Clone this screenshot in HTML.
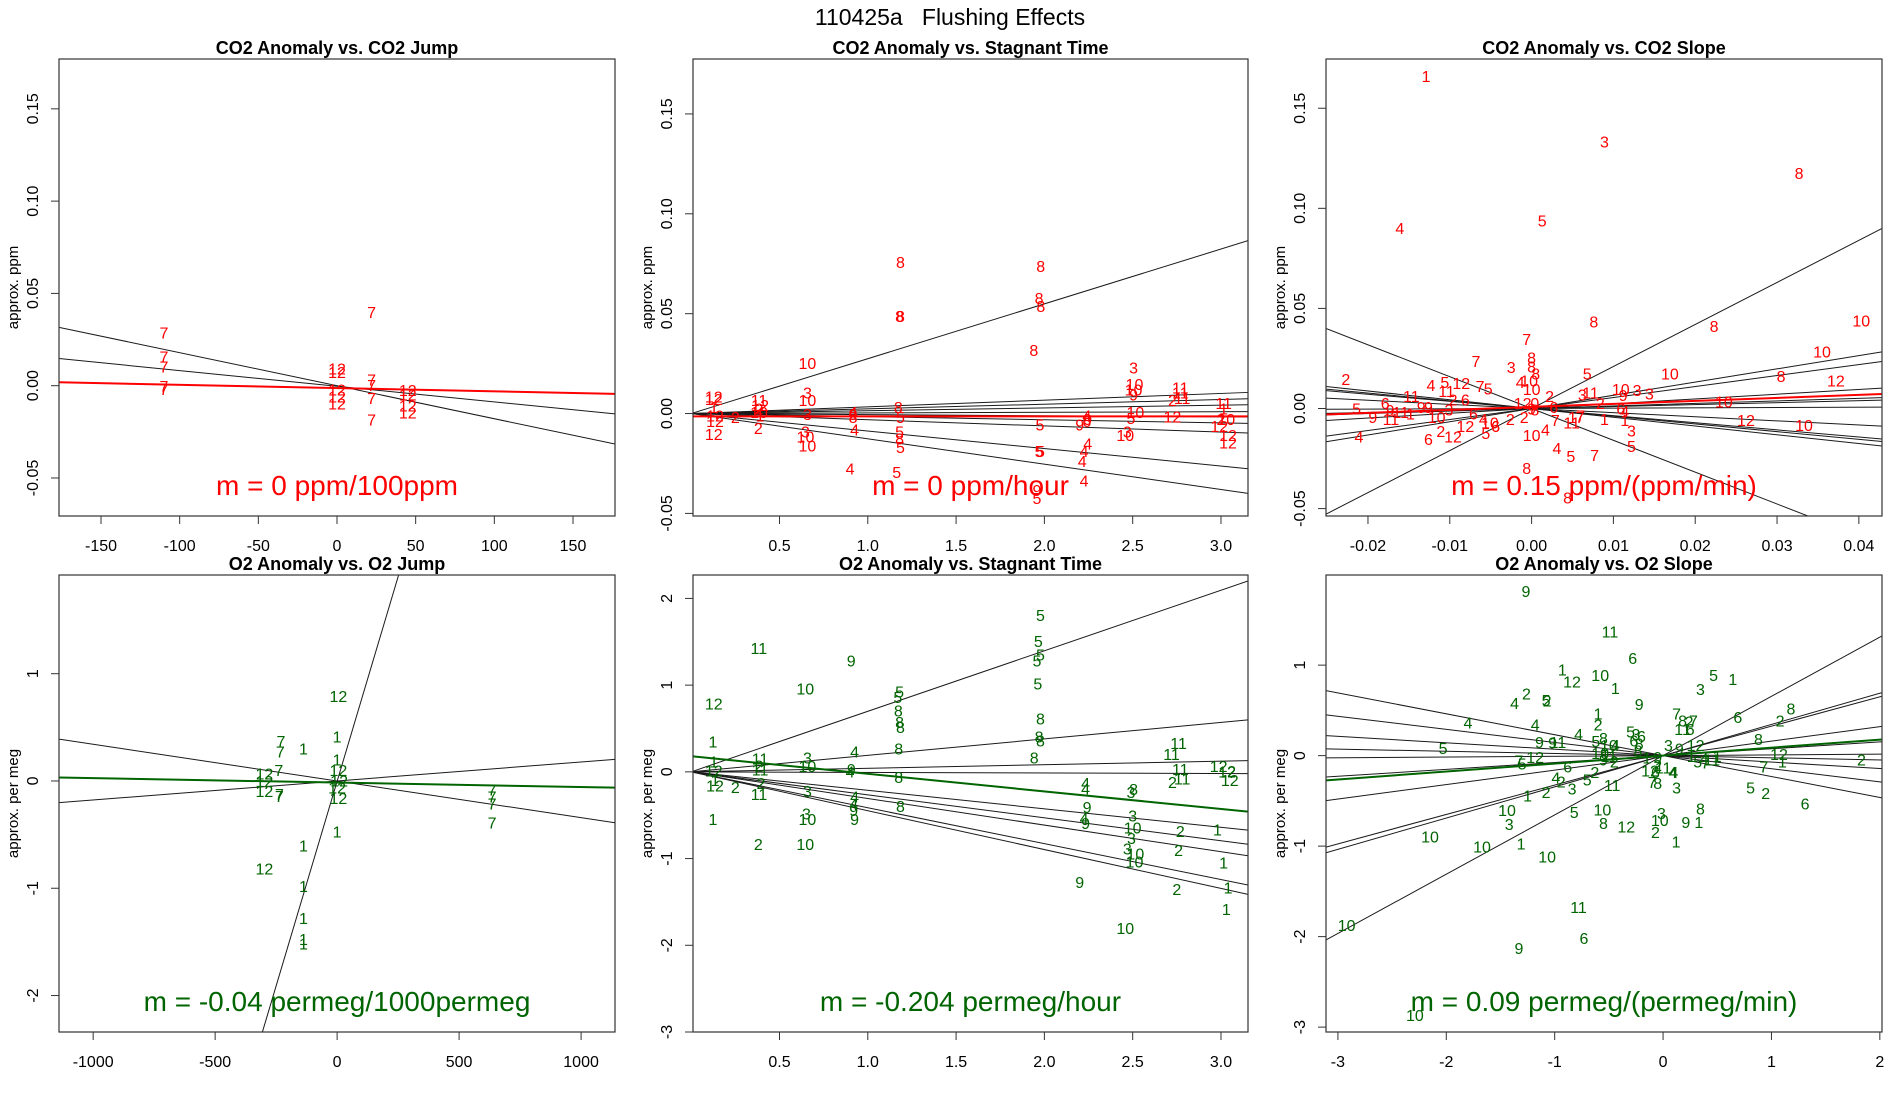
<!DOCTYPE html>
<html><head><meta charset="utf-8"><title>110425a Flushing Effects</title>
<style>
html,body{margin:0;padding:0;background:#fff;width:1900px;height:1100px;overflow:hidden;}
svg{display:block;font-family:"Liberation Sans",Arial,sans-serif;}
</style></head>
<body>
<svg id="fig" width="1900" height="1100" viewBox="0 0 1900 1100" xmlns="http://www.w3.org/2000/svg">
<rect x="0" y="0" width="1900" height="1100" fill="#fff"/>
<text x="950" y="25" font-size="23" text-anchor="middle">110425a&#160;&#160;&#160;Flushing Effects</text>
</svg>
<script>
// ---- Panel 1: CO2 Anomaly vs CO2 Jump ----
const p1X=[-110,-110,-110,-110,-110,22,22,22,22,22,0,0,0,0,0,45,45,45,45];
const p1Y=[.028,.015,.0095,-.001,-.0025,.039,.0025,-.0005,-.0076,-.019,.0086,.0067,-.003,-.0067,-.0105,-.0032,-.0057,-.0115,-.0153];
const p1L=[7,7,7,7,7,7,7,7,7,7,12,12,12,12,12,12,12,12,12];
const p1Slopes=[-0.000179,-0.0000849];
const p1Ints=[0,-0.0003];
const p1Fit=[-0.0000178,-0.0013];
const p1XTicks=[-150,-100,-50,0,50,100,150];
const p1YTicks=[-0.05,0,0.05,0.10,0.15];
const p1YTickLabels=["-0.05","0.00","0.05","0.10","0.15"];

// ---- Panel 2: CO2 Anomaly vs Stagnant Time ----
const p2X=[1.185,1.979,1.97,1.98,1.18,1.185,1.94,.658,2.505,2.51,2.505,2.505,2.77,2.77,2.725,2.78,3.015,3.015,.128,.128,.128,.135,.135,.128,.25,.384,.39,.384,.384,.39,.38,.658,.658,.658,.647,.647,.658,.917,.917,.917,.925,.9,1.173,1.185,1.18,1.18,1.185,1.164,1.975,1.97,1.978,1.958,1.958,2.2,2.24,2.245,2.24,2.245,2.225,2.214,2.225,2.515,2.49,2.458,2.47,2.725,2.99,3.03,3.04,3.04,3.0];
const p2Y=[.0752,.073,.057,.053,.048,.048,.031,.0246,.0224,.014,.0114,.0088,.0123,.0097,.006,.007,.0044,.0018,.0079,.0065,.0026,-.0018,-.0044,-.011,-.0026,.006,.0035,.0018,0,-.0018,-.0079,.0097,.006,-.001,-.0097,-.0123,-.0167,-.001,-.0026,0,-.0088,-.0282,.0026,-.0026,-.0097,-.0132,-.0176,-.03,-.0062,-.0194,-.0194,-.0431,-.039,-.0062,-.0018,-.0035,-.0044,-.0158,-.0194,-.0246,-.0343,0,-.003,-.0114,-.0097,-.0023,-.007,-.0035,-.0114,-.0153,-.0035];
const p2L=[8,8,8,8,8,8,8,10,3,10,10,9,11,11,2,11,11,1,12,12,1,12,12,12,2,11,12,2,10,1,2,3,10,3,3,10,10,9,8,4,4,4,8,5,5,8,5,5,5,5,5,5,9,9,4,9,6,4,4,4,4,10,5,10,3,12,12,10,12,12,2];
const p2Slopes=[0.02745,0.00335,0.00234,0.0014,0.0003,-0.00056,-0.00156,-0.0031,-0.00876,-0.01267];
const p2Ints=[0,0,0,0,0,0,0,0,0,0];
const p2Fit=[0,-0.0014];
const p2XTicks=[0.5,1.0,1.5,2.0,2.5,3.0];
const p2XTickLabels=["0.5","1.0","1.5","2.0","2.5","3.0"];

// ---- Panel 3: CO2 Anomaly vs CO2 Slope ----
const p3X=[-.0129,.0089,.0327,-.0161,.0013,.0076,.0223,.0403,-.0006,.0355,-.0068,-.0025,0,0,.0005,.0169,.0068,.0305,.0372,-.0227,-.0123,-.0106,-.0086,-.0063,-.0053,-.0014,-.0003,0,-.0147,-.0104,-.0096,.0062,.0072,.0109,.0129,.0144,.0112,.0235,.0022,-.0179,-.0173,-.0214,-.0194,-.0172,-.016,-.0135,-.0148,-.0126,-.0116,-.0101,-.0081,-.0071,-.0059,-.0051,-.0044,-.0026,-.0009,-.0011,0,.0004,.0004,.0027,.005,.006,.0084,-.0111,-.0126,-.0081,-.0056,-.0044,0,.0017,.0029,.0049,.0059,.0089,.0114,.0109,.0114,.0122,.0122,.0031,.0048,.0077,-.0006,.0044,.0262,.0333,-.0211,-.0096];
const p3Y=[.1654,.1326,.1168,.0893,.0932,.0428,.0405,.0432,.034,.0277,.023,.02,.0247,.0203,.0168,.0168,.0168,.0156,.0133,.0139,.011,.0125,.0121,.0104,.0093,.0125,.0133,.009,.0054,.008,.0037,.0063,.0072,.009,.0086,.0068,.006,.0028,.0054,.0019,-.0016,-.0007,-.0051,-.006,-.0025,0,-.0033,0,-.0051,-.0012,.0037,-.0033,-.006,-.0077,-.0095,-.006,-.0051,.0019,-.0007,.0019,-.0012,0,-.0051,-.0042,.0019,-.0121,-.016,-.0095,-.013,-.0095,-.0139,-.0112,-.0065,-.0077,-.0051,-.006,-.0065,-.0007,-.0019,-.0118,-.0196,-.0205,-.0244,-.0239,-.0305,-.0451,-.0065,-.009,-.0147,-.0147];
const p3L=[1,3,8,4,5,8,8,10,7,10,7,3,8,8,8,10,5,8,12,2,4,5,12,7,5,4,10,10,11,11,2,3,11,10,3,3,9,10,2,6,9,5,9,11,11,9,1,9,10,3,6,6,4,10,6,2,2,12,9,0,8,6,1,7,2,2,6,12,5,6,10,4,7,11,7,1,1,6,4,3,5,4,5,7,8,8,12,10,4,12];
const p3Slopes=[-1.59,2.1,0.66,0.549,0.238,0.127,0.098,0.016,-0.206,-0.356,-0.385,-0.438];
const p3Ints=[0,0,0,0,0,0,0,0,0,0,0,0];
const p3Fit=[0.15,0.0008];
const p3XTicks=[-0.02,-0.01,0,0.01,0.02,0.03,0.04];
const p3XTickLabels=["-0.02","-0.01","0.00","0.01","0.02","0.03","0.04"];

// ---- Panel 4: O2 Anomaly vs O2 Jump ----
const p4X=[5,0,0,-230,-233,-138,-239,-298,5,8,0,5,-298,-298,-237,-237,635,635,635,635,0,-138,-298,-138,-138,-138,-138];
const p4Y=[.777,.4,.187,.357,.26,.29,.089,.056,.089,-.01,-.075,-.174,-.016,-.108,-.134,-.154,-.092,-.157,-.223,-.403,-.485,-.616,-.83,-.993,-1.29,-1.485,-1.53];
const p4L=[12,1,1,7,7,1,7,12,12,12,12,12,12,12,7,7,7,7,7,7,1,1,12,1,1,1,1];
const p4Slopes=[0.00763,-0.000342,0.000177];
const p4Ints=[-0.003,0,0];
const p4Fit=[-0.0000417,-0.015];
const p4XTicks=[-1000,-500,0,500,1000];
const p4YTicks=[-2,-1,0,1];

// ---- Panel 5: O2 Anomaly vs Stagnant Time ----
const p5X=[1.978,1.966,1.978,1.958,1.963,.383,.906,.646,.128,1.18,1.17,1.173,1.18,1.185,1.978,1.97,1.978,1.942,.123,2.76,2.72,2.77,2.78,2.987,3.035,3.05,3.06,.925,1.175,.128,.128,.135,.135,.25,.39,.384,.39,.395,.384,.658,.658,.658,.907,.9,1.175,.925,.92,.92,.925,.653,.658,.123,.38,.646,1.185,2.233,2.233,2.242,2.225,2.233,2.2,2.505,2.49,2.5,2.5,2.493,2.47,2.515,2.51,2.458,2.725,2.77,2.76,2.75,2.98,3.015,3.04,3.03];
const p5Y=[1.789,1.49,1.338,1.268,1.0,1.41,1.268,.943,.772,.91,.845,.69,.556,.5,.598,.39,.345,.15,.333,.313,.19,.015,-.094,.05,-.012,-.11,-.01,.22,.25,.1,0,-.11,-.175,-.19,.138,.057,.008,-.146,-.27,.15,.05,-.24,.015,-.012,-.075,-.3,-.39,-.46,-.56,-.5,-.56,-.56,-.85,-.85,-.41,-.146,-.21,-.42,-.55,-.61,-1.29,-.215,-.25,-.52,-.66,-.78,-.9,-.96,-1.05,-1.82,-.134,-.70,-.92,-1.37,-.68,-1.06,-1.35,-1.6];
const p5L=[5,5,5,5,5,11,9,10,12,5,5,8,8,8,8,8,8,8,1,11,11,11,11,12,12,12,2,4,8,1,12,1,12,2,11,2,11,2,11,3,10,3,9,4,8,4,4,9,9,3,10,1,2,10,8,4,4,9,4,9,9,8,3,3,10,3,3,10,10,10,2,2,2,2,1,1,1,1];
const p5Slopes=[0.698,0.19,0.041,-0.0064,-0.213,-0.265,-0.307,-0.414,-0.448];
const p5Ints=[0,0,0,0,0,0,0,0,0];
const p5Fit=[-0.2027,0.18];
const p5YTicks=[-3,-2,-1,0,1,2];

// ---- Panel 6: O2 Anomaly vs O2 Slope ----
const p6X=[-1.265,-.49,-.28,-.93,-.84,-.58,-.44,.466,.644,.345,-1.26,-1.37,-1.08,-1.07,-.22,-1.8,-1.18,-.6,-.6,1.18,.69,1.08,.88,.125,.18,.24,.28,.18,.25,-2.03,-1.14,-1.02,-.97,-.78,-.62,-.55,-.3,-.25,-.2,-.27,-.22,-.44,-.5,-.58,-.5,-.55,-.45,-.23,-.15,-.05,.05,.15,.3,.26,.38,.45,.5,.32,.39,-.05,-.12,-.07,0,.1,-1.18,-1.3,-1.33,1.83,1.07,1.1,.93,-.88,-.99,-.94,-.84,-.7,-.63,-.47,-.1,-.05,.125,.09,.807,.947,1.31,-1.25,-1.08,-1.44,-1.42,-.82,-.56,-.55,-.34,-.015,-.03,.21,.33,.345,-.07,.12,-2.15,-1.67,-1.31,-1.07,-.78,-.73,-1.33,-2.92,-2.29];
const p6Y=[1.8,1.354,1.062,.934,.805,.875,.73,.875,.83,.72,.67,.564,.6,.59,.556,.35,.33,.447,.33,.506,.41,.37,.167,.447,.37,.36,.37,.28,.28,.066,.136,.13,.136,.22,.144,.18,.25,.22,.2,.15,.12,.1,.1,.01,-.02,-.06,-.08,.04,-.04,-.03,.1,.06,.1,-.02,-.05,-.06,-.02,-.08,-.09,-.12,-.18,-.2,-.15,-.2,-.03,-.105,-.07,-.06,0,-.08,-.136,-.136,-.26,-.3,-.38,-.28,-.2,-.34,-.31,-.32,-.37,-.2,-.37,-.43,-.545,-.455,-.42,-.62,-.77,-.64,-.61,-.76,-.8,-.65,-.73,-.75,-.75,-.6,-.86,-.965,-.91,-1.02,-.99,-1.13,-1.69,-2.03,-2.14,-1.89,-2.88];
const p6L=[9,11,6,1,12,10,1,5,1,3,2,4,5,2,9,4,4,1,2,8,6,2,8,7,8,2,7,11,6,5,9,9,11,4,5,8,5,3,6,6,8,4,10,10,11,9,2,8,1,9,3,9,12,1,4,11,1,5,7,2,12,6,11,4,12,5,7,2,12,1,7,6,4,2,3,5,2,11,7,8,3,4,5,2,6,1,2,10,3,5,10,8,12,3,10,9,1,8,2,1,10,10,1,10,11,6,9,10,10];
const p6Slopes=[0.655,0.345,0.325,0.16,0.076,0.008,-0.024,-0.071,-0.145,-0.231];
const p6Ints=[0,0,0,0,0,0,0,0,0,0];
const p6Fit=[0.088,0];
const p6XTicks=[-3,-2,-1,0,1,2];

const NS="http://www.w3.org/2000/svg";
const svg=document.getElementById('fig');
function mk(tag,attrs,parent){const e=document.createElementNS(NS,tag);for(const k in attrs)e.setAttribute(k,attrs[k]);(parent||svg).appendChild(e);return e;}

const panels=[
 {id:'co2-jump',title:'CO2 Anomaly vs. CO2 Jump',L:59,R:615,T:59,B:516,xlim:[-176.7,176.7],ylim:[-0.0706,0.177],xs:p1X,ys:p1Y,ls:p1L,slopes:p1Slopes,ints:p1Ints,fit:p1Fit,xt:p1XTicks,xtl:p1XTicks.map(String),yt:p1YTicks,ytl:p1YTickLabels,ylab:'approx. ppm',col:'#ff0000',ann:'m = 0 ppm/100ppm',x0:null},
 {id:'co2-stagnant',title:'CO2 Anomaly vs. Stagnant Time',L:693,R:1248,T:59,B:516,xlim:[0.0102,3.153],ylim:[-0.0513,0.1775],xs:p2X,ys:p2Y,ls:p2L,slopes:p2Slopes,ints:p2Ints,fit:p2Fit,xt:p2XTicks,xtl:p2XTickLabels,yt:p1YTicks,ytl:p1YTickLabels,ylab:'approx. ppm',col:'#ff0000',ann:'m = 0 ppm/hour',x0:0},
 {id:'co2-slope',title:'CO2 Anomaly vs. CO2 Slope',L:1326,R:1882,T:59,B:516,xlim:[-0.02513,0.04283],ylim:[-0.0537,0.1746],xs:p3X,ys:p3Y,ls:p3L,slopes:p3Slopes,ints:p3Ints,fit:p3Fit,xt:p3XTicks,xtl:p3XTickLabels,yt:p1YTicks,ytl:p1YTickLabels,ylab:'approx. ppm',col:'#ff0000',ann:'m = 0.15 ppm/(ppm/min)',x0:null},
 {id:'o2-jump',title:'O2 Anomaly vs. O2 Jump',L:59,R:615,T:575,B:1032,xlim:[-1140,1139],ylim:[-2.34,1.92],xs:p4X,ys:p4Y,ls:p4L,slopes:p4Slopes,ints:p4Ints,fit:p4Fit,xt:p4XTicks,xtl:p4XTicks.map(String),yt:p4YTicks,ytl:p4YTicks.map(String),ylab:'approx. per meg',col:'#006400',ann:'m = -0.04 permeg/1000permeg',x0:null},
 {id:'o2-stagnant',title:'O2 Anomaly vs. Stagnant Time',L:693,R:1248,T:575,B:1032,xlim:[0.0102,3.153],ylim:[-3.0,2.27],xs:p5X,ys:p5Y,ls:p5L,slopes:p5Slopes,ints:p5Ints,fit:p5Fit,xt:p2XTicks,xtl:p2XTickLabels,yt:p5YTicks,ytl:p5YTicks.map(String),ylab:'approx. per meg',col:'#006400',ann:'m = -0.204 permeg/hour',x0:0},
 {id:'o2-slope',title:'O2 Anomaly vs. O2 Slope',L:1326,R:1882,T:575,B:1032,xlim:[-3.11,2.02],ylim:[-3.054,1.996],xs:p6X,ys:p6Y,ls:p6L,slopes:p6Slopes,ints:p6Ints,fit:p6Fit,xt:p6XTicks,xtl:p6XTicks.map(String),yt:[-3,-2,-1,0,1],ytl:["-3","-2","-1","0","1"],ylab:'approx. per meg',col:'#006400',ann:'m = 0.09 permeg/(permeg/min)',x0:null}
];

panels.forEach((p,pi)=>{
  const g=mk('g',{});
  
  
  const sx=v=>p.L+(v-p.xlim[0])/(p.xlim[1]-p.xlim[0])*(p.R-p.L);
  const sy=v=>p.B-(v-p.ylim[0])/(p.ylim[1]-p.ylim[0])*(p.B-p.T);
  const cid='clip'+pi;
  const cp=mk('clipPath',{id:cid},g);
  mk('rect',{x:p.L,y:p.T,width:p.R-p.L,height:p.B-p.T},cp);
  const plot=mk('g',{'clip-path':'url(#'+cid+')'},g);
  
  
  const xa=(p.x0===null)?p.xlim[0]:p.x0, xb=p.xlim[1];
  p.slopes.forEach((m,i)=>{
    const b=p.ints[i];
    const ln=mk('line',{x1:sx(xa),y1:sy(b+m*xa),x2:sx(xb),y2:sy(b+m*xb),stroke:'#1a1a1a','stroke-width':1},plot);
    
    
  });
  p.xs.forEach((x,i)=>{
    const t=mk('text',{x:sx(x),y:sy(p.ys[i]),fill:p.col,'font-size':16,'text-anchor':'middle','dominant-baseline':'central'},plot);
    t.textContent=String(p.ls[i]);
    
    
  });
  const fl=mk('line',{x1:sx(p.xlim[0]),y1:sy(p.fit[1]+p.fit[0]*p.xlim[0]),x2:sx(xb),y2:sy(p.fit[1]+p.fit[0]*xb),stroke:p.col,'stroke-width':2},plot);
  
  
  const an=mk('text',{x:(p.L+p.R)/2,y:p.B-21,fill:p.col,'font-size':28,'text-anchor':'middle'},g);
  an.textContent=p.ann;
  
  
  const box=mk('rect',{x:p.L,y:p.T,width:p.R-p.L,height:p.B-p.T,fill:'none',stroke:'#333','stroke-width':1.2},g);
  
  
  const tt=mk('text',{x:(p.L+p.R)/2,y:p.T-5,'font-size':18,'font-weight':'bold','text-anchor':'middle'},g);
  tt.textContent=p.title;
  
  
  p.xt.forEach((v,i)=>{
    const X=sx(v);
    const tk=mk('line',{x1:X,y1:p.B,x2:X,y2:p.B+8,stroke:'#333','stroke-width':1},g);
    
    
    const tl=mk('text',{x:X,y:p.B+35,'font-size':16,'text-anchor':'middle'},g);
    tl.textContent=p.xtl[i];
    
    
  });
  p.yt.forEach((v,i)=>{
    const Y=sy(v);
    const tk=mk('line',{x1:p.L-8,y1:Y,x2:p.L,y2:Y,stroke:'#333','stroke-width':1},g);
    
    
    const tl=mk('text',{x:p.L-21,y:Y,'font-size':16,'text-anchor':'middle',transform:'rotate(-90 '+(p.L-21)+' '+Y+')'},g);
    tl.textContent=p.ytl[i];
    
    
  });
  const yl=mk('text',{x:p.L-41,y:(p.T+p.B)/2,'font-size':15,'text-anchor':'middle',transform:'rotate(-90 '+(p.L-41)+' '+((p.T+p.B)/2)+')'},g);
  yl.textContent=p.ylab;
  
  
});
</script>
</body></html>
